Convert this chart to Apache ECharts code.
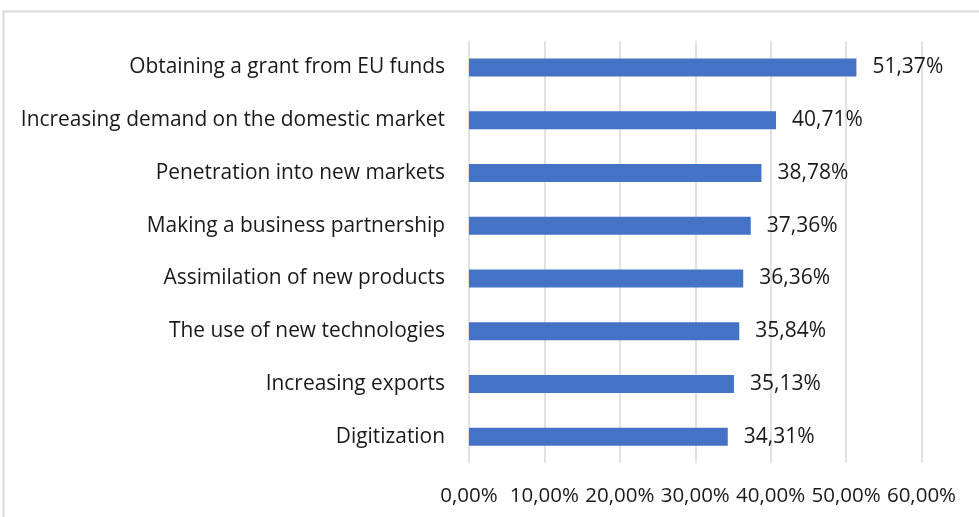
<!DOCTYPE html>
<html>
<head>
<meta charset="utf-8">
<script src="https://cdn.jsdelivr.net/npm/echarts@6/dist/echarts.min.js"></script>
<style>
  html, body { margin: 0; padding: 0; background: #fff; }
  #chart { width: 979px; height: 517px; }
</style>
</head>
<body>
<div id="chart"></div>
<script>
// Reasons for investment, share of respondents (%)
const categories = [
  'Obtaining a grant from EU funds',
  'Increasing demand on the domestic market',
  'Penetration into new markets',
  'Making a business partnership',
  'Assimilation of new products',
  'The use of new technologies',
  'Increasing exports',
  'Digitization'
];
const shares = [51.37, 40.71, 38.78, 37.36, 36.36, 35.84, 35.13, 34.31];
const tickValues = [0, 10, 20, 30, 40, 50, 60];

const FONT = '"Open Sans"';
const TEXT = '#1a1a1a';
const fmt = v => v.toFixed(2).replace('.', ',') + '%';

const chart = echarts.init(document.getElementById('chart'), null, { renderer: 'canvas' });
chart.setOption({
  animation: false,
  backgroundColor: '#ffffff',
  graphic: [{
    type: 'rect',
    shape: { x: 3.5, y: 11.5, width: 1100, height: 700 },
    style: { fill: 'none', stroke: '#d9d9d9', lineWidth: 2 },
    silent: true
  }],
  grid: { left: 469, right: 57.5, top: 41, bottom: 54, containLabel: false },
  xAxis: {
    type: 'value',
    min: tickValues[0],
    max: tickValues[tickValues.length - 1],
    interval: 10,
    axisLine: { show: false },
    axisTick: { show: false },
    splitLine: { show: true, lineStyle: { color: '#d9d9d9', width: 1.5 } },
    axisLabel: {
      color: TEXT, fontFamily: FONT, fontSize: 20.5, margin: 23,
      formatter: v => fmt(v)
    }
  },
  yAxis: {
    type: 'category',
    data: categories,
    inverse: true,
    axisLine: { show: false },
    axisTick: { show: false },
    axisLabel: { color: TEXT, fontFamily: FONT, fontSize: 20.9, margin: 24 }
  },
  series: [{
    type: 'bar',
    data: shares,
    barWidth: 18,
    itemStyle: { color: '#4472c4' },
    label: {
      show: true, position: 'right', distance: 16,
      color: TEXT, fontFamily: FONT, fontSize: 21,
      formatter: p => fmt(p.value)
    }
  }]
});
</script>
</body>
</html>
